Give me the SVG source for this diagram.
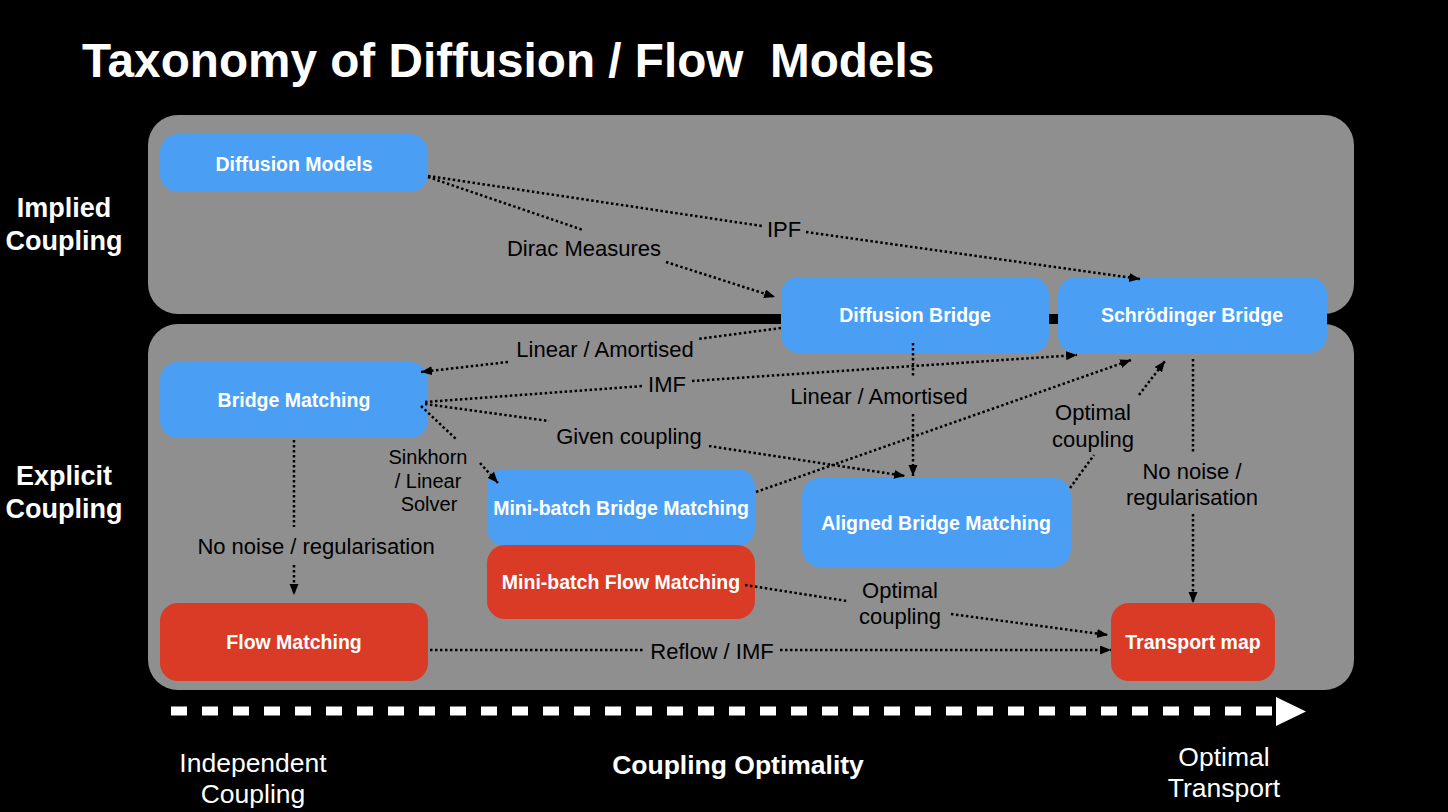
<svg xmlns="http://www.w3.org/2000/svg" width="1448" height="812" viewBox="0 0 1448 812">
<defs>
<style>
.bg{fill:#000}
.panel{fill:#8f8f8f}
.blue{fill:#4a9ff5}
.red{fill:#d93b27}
.nl{font-family:"Liberation Sans",Arial,sans-serif;font-weight:bold;font-size:19.5px;fill:#fff;text-anchor:middle}
.el{font-family:"Liberation Sans",Arial,sans-serif;font-size:22px;fill:#000;text-anchor:middle}
.sl{font-family:"Liberation Sans",Arial,sans-serif;font-size:20px;fill:#000;text-anchor:middle}
.side{font-family:"Liberation Sans",Arial,sans-serif;font-weight:bold;font-size:27px;fill:#fff;text-anchor:middle}
.axis{font-family:"Liberation Sans",Arial,sans-serif;font-size:26.5px;fill:#fff;text-anchor:middle}
.edge{fill:none;stroke:#000;stroke-width:2.5;stroke-dasharray:2.5 2.5}
.arr{marker-end:url(#ah)}
</style>
<marker id="ah" markerUnits="userSpaceOnUse" markerWidth="12" markerHeight="10" refX="11" refY="4.5" orient="auto">
<path d="M0,0 L11,4.5 L0,9 z" fill="#000"/>
</marker>
</defs>
<rect class="bg" x="0" y="0" width="1448" height="812"/>
<text x="82" y="77" xml:space="preserve" style="font-family:'Liberation Sans',Arial,sans-serif;font-weight:bold;font-size:47.7px;fill:#fff">Taxonomy of Diffusion / Flow  Models</text>

<g id="panels">
<rect class="panel" x="148" y="115" width="1206" height="199" rx="30"/>
<rect class="panel" x="148" y="324" width="1206" height="366" rx="30"/>
</g>

<g id="side-labels">
<text class="side" x="64" y="217">Implied</text>
<text class="side" x="64" y="250">Coupling</text>
<text class="side" x="64" y="485">Explicit</text>
<text class="side" x="64" y="518">Coupling</text>
</g>

<g id="node-diffusion-models"><rect class="blue" x="160" y="134" width="268" height="58" rx="18"/><text class="nl" x="294" y="171">Diffusion Models</text></g>
<g id="node-diffusion-bridge"><rect class="blue" x="781" y="277" width="268" height="76" rx="18"/><text class="nl" x="915" y="322">Diffusion Bridge</text></g>
<g id="node-schrodinger-bridge"><rect class="blue" x="1058" y="277" width="269" height="76" rx="18"/><text class="nl" x="1192" y="322">Schrödinger Bridge</text></g>
<g id="node-bridge-matching"><rect class="blue" x="160" y="362" width="268" height="76" rx="18"/><text class="nl" x="294" y="407">Bridge Matching</text></g>
<g id="node-minibatch-bridge-matching"><rect class="blue" x="487" y="469" width="268" height="77" rx="18"/><text class="nl" x="621" y="515">Mini-batch Bridge Matching</text></g>
<g id="node-minibatch-flow-matching"><rect class="red" x="487" y="545" width="268" height="74" rx="18"/><text class="nl" x="621" y="589">Mini-batch Flow Matching</text></g>
<g id="node-aligned-bridge-matching"><rect class="blue" x="802" y="478" width="269" height="89" rx="18"/><text class="nl" x="936" y="530">Aligned Bridge Matching</text></g>
<g id="node-flow-matching"><rect class="red" x="160" y="603" width="268" height="78" rx="18"/><text class="nl" x="294" y="649">Flow Matching</text></g>
<g id="node-transport-map"><rect class="red" x="1111" y="603" width="164" height="78" rx="18"/><text class="nl" x="1193" y="649">Transport map</text></g>

<g id="connectors">
<!-- Diffusion Models -> Schrodinger Bridge (IPF) -->
<path class="edge" d="M428,176 L762,226"/>
<path class="edge arr" d="M806,232 L1140,279"/>
<!-- Diffusion Models -> Diffusion Bridge (Dirac Measures) -->
<path class="edge" d="M428,177 L583,230"/>
<path class="edge arr" d="M666,262 L775,297"/>
<!-- Diffusion Bridge -> Bridge Matching (Linear / Amortised) -->
<path class="edge" d="M781,328 L698,339"/>
<path class="edge arr" d="M508,362 L421,372"/>
<!-- Bridge Matching -> Schrodinger Bridge (IMF) -->
<path class="edge" d="M425,402 L643,386"/>
<path class="edge arr" d="M692,381 L1077,355"/>
<!-- Bridge Matching -> Aligned Bridge Matching (Given coupling) -->
<path class="edge" d="M425,404 L549,421"/>
<path class="edge arr" d="M709,446 L905,476"/>
<!-- Bridge Matching -> Mini-batch Bridge Matching (Sinkhorn) -->
<path class="edge" d="M421,406 L457,440"/>
<path class="edge arr" d="M480,463 L498,483"/>
<!-- Diffusion Bridge -> Aligned Bridge Matching (Linear / Amortised) -->
<path class="edge" d="M913,343 L913,377"/>
<path class="edge arr" d="M913,414 L913,476"/>
<!-- Mini-batch Bridge Matching -> Schrodinger Bridge -->
<path class="edge arr" d="M756,492 L1131,360"/>
<!-- Aligned Bridge Matching -> Schrodinger Bridge (Optimal coupling) -->
<path class="edge" d="M1070,488 L1094,455"/>
<path class="edge arr" d="M1139,395 L1165,361"/>
<!-- Schrodinger Bridge -> Transport map (No noise) -->
<path class="edge" d="M1193,359 L1193,453"/>
<path class="edge arr" d="M1193,514 L1193,603"/>
<!-- Bridge Matching -> Flow Matching (No noise) -->
<path class="edge" d="M294,440 L294,527"/>
<path class="edge arr" d="M294,565 L294,595"/>
<!-- Mini-batch Flow Matching -> Transport map (Optimal coupling) -->
<path class="edge" d="M745,585 L847,601"/>
<path class="edge arr" d="M951,614 L1108,635"/>
<!-- Flow Matching -> Transport map (Reflow / IMF) -->
<path class="edge" d="M430,650 L643,650"/>
<path class="edge arr" d="M780,650 L1111,650"/>
</g>

<g id="edge-labels">
<text class="el" x="784" y="237">IPF</text>
<text class="el" x="584" y="256">Dirac Measures</text>
<text class="el" x="605" y="357">Linear / Amortised</text>
<text class="el" x="667" y="392">IMF</text>
<text class="el" x="629" y="444">Given coupling</text>
<text class="sl" x="428" y="464">Sinkhorn</text>
<text class="sl" x="428" y="488">/ Linear</text>
<text class="sl" x="429" y="511">Solver</text>
<text class="el" x="879" y="404">Linear / Amortised</text>
<text class="el" x="1093" y="420">Optimal</text>
<text class="el" x="1093" y="447">coupling</text>
<text class="el" x="1192" y="479">No noise /</text>
<text class="el" x="1192" y="505">regularisation</text>
<text class="el" x="316" y="554">No noise / regularisation</text>
<text class="el" x="900" y="598">Optimal</text>
<text class="el" x="900" y="624">coupling</text>
<text class="el" x="712" y="659">Reflow / IMF</text>
</g>

<g id="axis">
<line x1="171" y1="711" x2="1272" y2="711" stroke="#fff" stroke-width="9" stroke-dasharray="16 15"/>
<path d="M1276,697 L1306,711.5 L1276,726 z" fill="#fff"/>
<text class="axis" x="253" y="772">Independent</text>
<text class="axis" x="253" y="803">Coupling</text>
<text class="axis" x="738" y="774" style="font-weight:bold">Coupling Optimality</text>
<text class="axis" x="1224" y="766">Optimal</text>
<text class="axis" x="1224" y="797">Transport</text>
</g>
</svg>
